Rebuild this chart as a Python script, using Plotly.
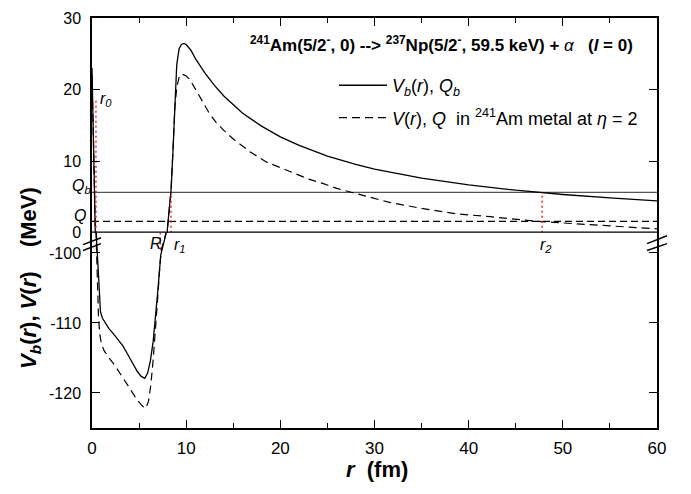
import plotly.graph_objects as go

# ---------------- data ----------------
r_solid = [0.0, 0.18, 0.35, 0.42, 0.5, 0.57, 0.65, 0.75, 0.9, 1.1, 1.4, 1.8, 2.3, 2.8,
           3.3, 3.8, 4.3, 4.8, 5.2, 5.6, 5.9, 6.2, 6.5, 6.8, 7.05, 7.3, 7.6, 7.85, 7.92,
           8.0, 8.2, 8.4, 8.6, 8.8, 9.0, 9.25, 9.5, 9.75, 10.0, 10.5, 11, 12, 13, 14, 15,
           16, 18, 20, 22, 25, 28, 30, 35, 40, 45, 50, 55, 60]
v_solid = [23.0, 11.5, 0.0, -96.5, -98.5, -100.6, -103.8, -106.6, -108.4, -109.3, -110.0,
           -110.8, -111.6, -112.4, -113.3, -114.5, -115.7, -116.9, -117.6, -117.9, -117.2,
           -115.4, -112.6, -108.6, -104.5, -100.3, -98.6, -97.3, -96.0,
           0.5, 3.0, 6.0, 11.5, 19.0, 23.5, 25.7, 26.3, 26.45, 26.3, 25.5, 24.3, 22.3, 20.6,
           19.1, 17.85, 16.7, 14.9, 13.4, 12.2, 10.7, 9.55, 8.9, 7.65, 6.7, 5.95, 5.35, 4.87,
           4.46]

r_dash = [0.0, 0.18, 0.36, 0.40, 0.45, 0.52, 0.6, 0.7, 0.85, 1.0, 1.3, 1.8, 2.4, 3.0, 3.6,
          4.2, 4.8, 5.3, 5.7, 6.0, 6.25, 6.5, 6.75, 7.0, 7.2, 7.35, 7.6, 7.85, 7.92,
          8.0, 8.2, 8.4, 8.6, 8.8, 9.0, 9.25, 9.5, 9.75, 10.0, 10.4, 11, 11.8, 12.5, 13.2,
          14, 15, 16, 16.8, 18.5, 20.3, 21, 23, 24.5, 26, 27.7, 30, 31.6, 35, 38.7, 42.3,
          46.5, 47.2, 50, 53, 56, 60]
v_dash = [22.0, 11.0, 0.0, -96.0, -99.0, -102.5, -106.5, -109.5, -111.8, -113.0, -114.0,
          -115.0, -116.0, -117.3, -118.6, -119.9, -121.0, -121.8, -122.2, -121.2, -118.8,
          -115.2, -111.0, -106.0, -102.0, -99.6, -98.4, -97.2, -96.0,
          0.3, 3.0, 6.0, 11.5, 17.5, 20.3, 21.7, 22.2, 22.1, 21.9, 21.4, 20.0, 18.1, 16.6,
          15.4, 14.3, 13.1, 12.1, 11.3, 9.9, 8.95, 8.6, 7.5, 6.9, 6.2, 5.6, 4.8, 4.25, 3.4,
          2.65, 2.25, 1.72, 1.62, 1.38, 1.1, 0.85, 0.55]

Q_b = 5.64          # MeV
Q = 1.6             # MeV
r_0, r_0_top = 0.42, 18.5
r_1 = 8.39
r_2 = 47.8
R_n, R_top, R_bot = 7.25, -97.1, -99.5

x_ticks = [0, 10, 20, 30, 40, 50, 60]
y_top_ticks = [0, 10, 20, 30]
y_bot_ticks = [-100, -110, -120]
y_bot_labels = ["-100", "-110", "-120"]

# ---------------- figure ----------------
W, H = 691, 494
ML, MR, MT, MB = 92, 34, 10, 66
PW, PH = W - ML - MR, H - MT - MB
split = 1 - 219 / PH
FONT = "Liberation Sans, Arial, sans-serif"

def px2paper(px, py):
    return (px - ML) / PW, 1 - (py - MT) / PH

fig = go.Figure()

lab_solid = "<i>V</i><sub><i>b</i></sub>(<i>r</i>), <i>Q</i><sub><i>b</i></sub>"
lab_dash = "<i>V</i>(<i>r</i>), <i>Q</i>\u00a0 in <sup>241</sup>Am metal at <i>η</i> = 2"

for xa, ya, show in (("x", "y", True), ("x2", "y2", False)):
    fig.add_trace(go.Scatter(x=r_solid, y=v_solid, mode="lines", xaxis=xa, yaxis=ya,
                             line=dict(color="black", width=1.3), name=lab_solid,
                             showlegend=show, legendgroup="a"))
    fig.add_trace(go.Scatter(x=r_dash, y=v_dash, mode="lines", xaxis=xa, yaxis=ya,
                             line=dict(color="black", width=1.2, dash="8px,5px"), name=lab_dash,
                             showlegend=show, legendgroup="b"))

red = dict(color="red", width=1.3, dash="2px,3px")
for rx, y0, y1, xa, ya in ((r_0, 0, r_0_top, "x", "y"), (r_1, 0, Q_b, "x", "y"),
                           (r_2, 0, Q_b, "x", "y"), (R_n, R_top, R_bot, "x2", "y2")):
    fig.add_trace(go.Scatter(x=[rx, rx], y=[y0, y1], mode="lines", xaxis=xa, yaxis=ya,
                             line=red, showlegend=False, hoverinfo="skip"))

shapes = [
    dict(type="line", xref="x domain", x0=0, x1=1, yref="y", y0=Q_b, y1=Q_b,
         line=dict(color="#555555", width=1.3), layer="below"),
    dict(type="line", xref="x domain", x0=0, x1=1, yref="y", y0=Q, y1=Q,
         line=dict(color="black", width=1.2, dash="7px,4px"), layer="below"),
    dict(type="line", xref="x domain", x0=0, x1=1, yref="y", y0=0, y1=0,
         line=dict(color="black", width=2.4)),
]
# axis-break marks
for (a, b, c, d) in ((83, 241, 101, 234), (83, 247, 101, 240),
                     (647, 240, 667, 232), (647, 247, 667, 240)):
    x0, y0 = px2paper(a, b)
    x1, y1 = px2paper(c, d)
    shapes.append(dict(type="line", xref="paper", yref="paper", x0=x0, y0=y0, x1=x1, y1=y1,
                       line=dict(color="black", width=1.5)))

ann = []
def add_ann(text, x, y, xref, yref, size=16, **kw):
    d = dict(text=text, x=x, y=y, xref=xref, yref=yref, showarrow=False,
             xanchor="center", yanchor="middle",
             font=dict(family=FONT, size=size, color="black"))
    d.update(kw)
    ann.append(d)

tx, ty = px2paper(441, 37)
add_ann("<b><sup>241</sup>Am(5/2<sup>-</sup>, 0) --> <sup>237</sup>Np(5/2<sup>-</sup>, 59.5 keV) + </b>"
        "<i>α</i><b>\u00a0\u00a0 (<i>l</i> = 0)</b>", tx, ty, "paper", "paper", size=17)
ax_, ay_ = px2paper(30, 275)
add_ann("<b><i>V</i><sub><i>b</i></sub>(<i>r</i>), <i>V</i>(<i>r</i>)\u00a0\u00a0\u00a0 (MeV)</b>",
        ax_, ay_, "paper", "paper", size=22, textangle=-90)
bx_, by_ = px2paper(377, 470)
add_ann("<b><i>r</i>\u00a0 (fm)</b>", bx_, by_, "paper", "paper", size=22)
add_ann("<i>Q</i><sub><i>b</i></sub>", 0, Q_b, "paper", "y", xanchor="right", xshift=1, yshift=6)
add_ann("<i>Q</i>", 0, Q, "paper", "y", xanchor="right", xshift=-4, yshift=6)
add_ann("<i>r</i><sub><i>0</i></sub>", 0.62, 18.6, "x", "y", xanchor="left")
add_ann("<i>r</i><sub><i>1</i></sub>", 8.47, -98.9, "x2", "y2", xanchor="left")
add_ann("<i>R</i>", 5.95, -98.7, "x2", "y2", xanchor="left")
add_ann("<i>r</i><sub><i>2</i></sub>", 47.4, -98.9, "x2", "y2", xanchor="left")

common_x = dict(range=[0, 60], showgrid=False, zeroline=False, showline=True,
                linecolor="black", linewidth=1.5, ticks="inside", ticklen=8, tickwidth=1.3,
                tickcolor="black", tickvals=x_ticks,
                minor=dict(ticks="inside", ticklen=5, tickwidth=1.3, dtick=5, tick0=0,
                           tickcolor="black", showgrid=False))
common_y = dict(showgrid=False, zeroline=False, showline=True, linecolor="black",
                linewidth=1.5, ticks="inside", ticklen=8, tickwidth=1.3, tickcolor="black",
                mirror="ticks", tickfont=dict(family=FONT, size=16, color="black"),
                ticklabelstandoff=6)

fig.update_layout(
    width=W, height=H, margin=dict(l=ML, r=MR, t=MT, b=MB),
    paper_bgcolor="white", plot_bgcolor="white",
    font=dict(family=FONT, size=16, color="black"),
    xaxis=dict(common_x, anchor="y", side="top", showticklabels=False, domain=[0, 1]),
    xaxis2=dict(common_x, anchor="y2", side="bottom", domain=[0, 1],
                tickfont=dict(family=FONT, size=17, color="black"), ticklabelstandoff=4),
    yaxis=dict(common_y, anchor="x", domain=[split, 1], range=[0, 30],
               tickvals=y_top_ticks),
    yaxis2=dict(common_y, anchor="x2", domain=[0, split], range=[-125, -97.13],
                tickvals=y_bot_ticks, ticktext=y_bot_labels),
    shapes=shapes, annotations=ann,
    showlegend=True,
    legend=dict(x=(334 - ML) / PW, y=1 - (60 - MT) / PH, xanchor="left", yanchor="top",
                bgcolor="rgba(0,0,0,0)", font=dict(family=FONT, size=18, color="black"),
                tracegroupgap=6, itemwidth=48),
)

fig.write_html("out.html", config={"displayModeBar": False},
               post_script="document.body.style.margin='0px';")
